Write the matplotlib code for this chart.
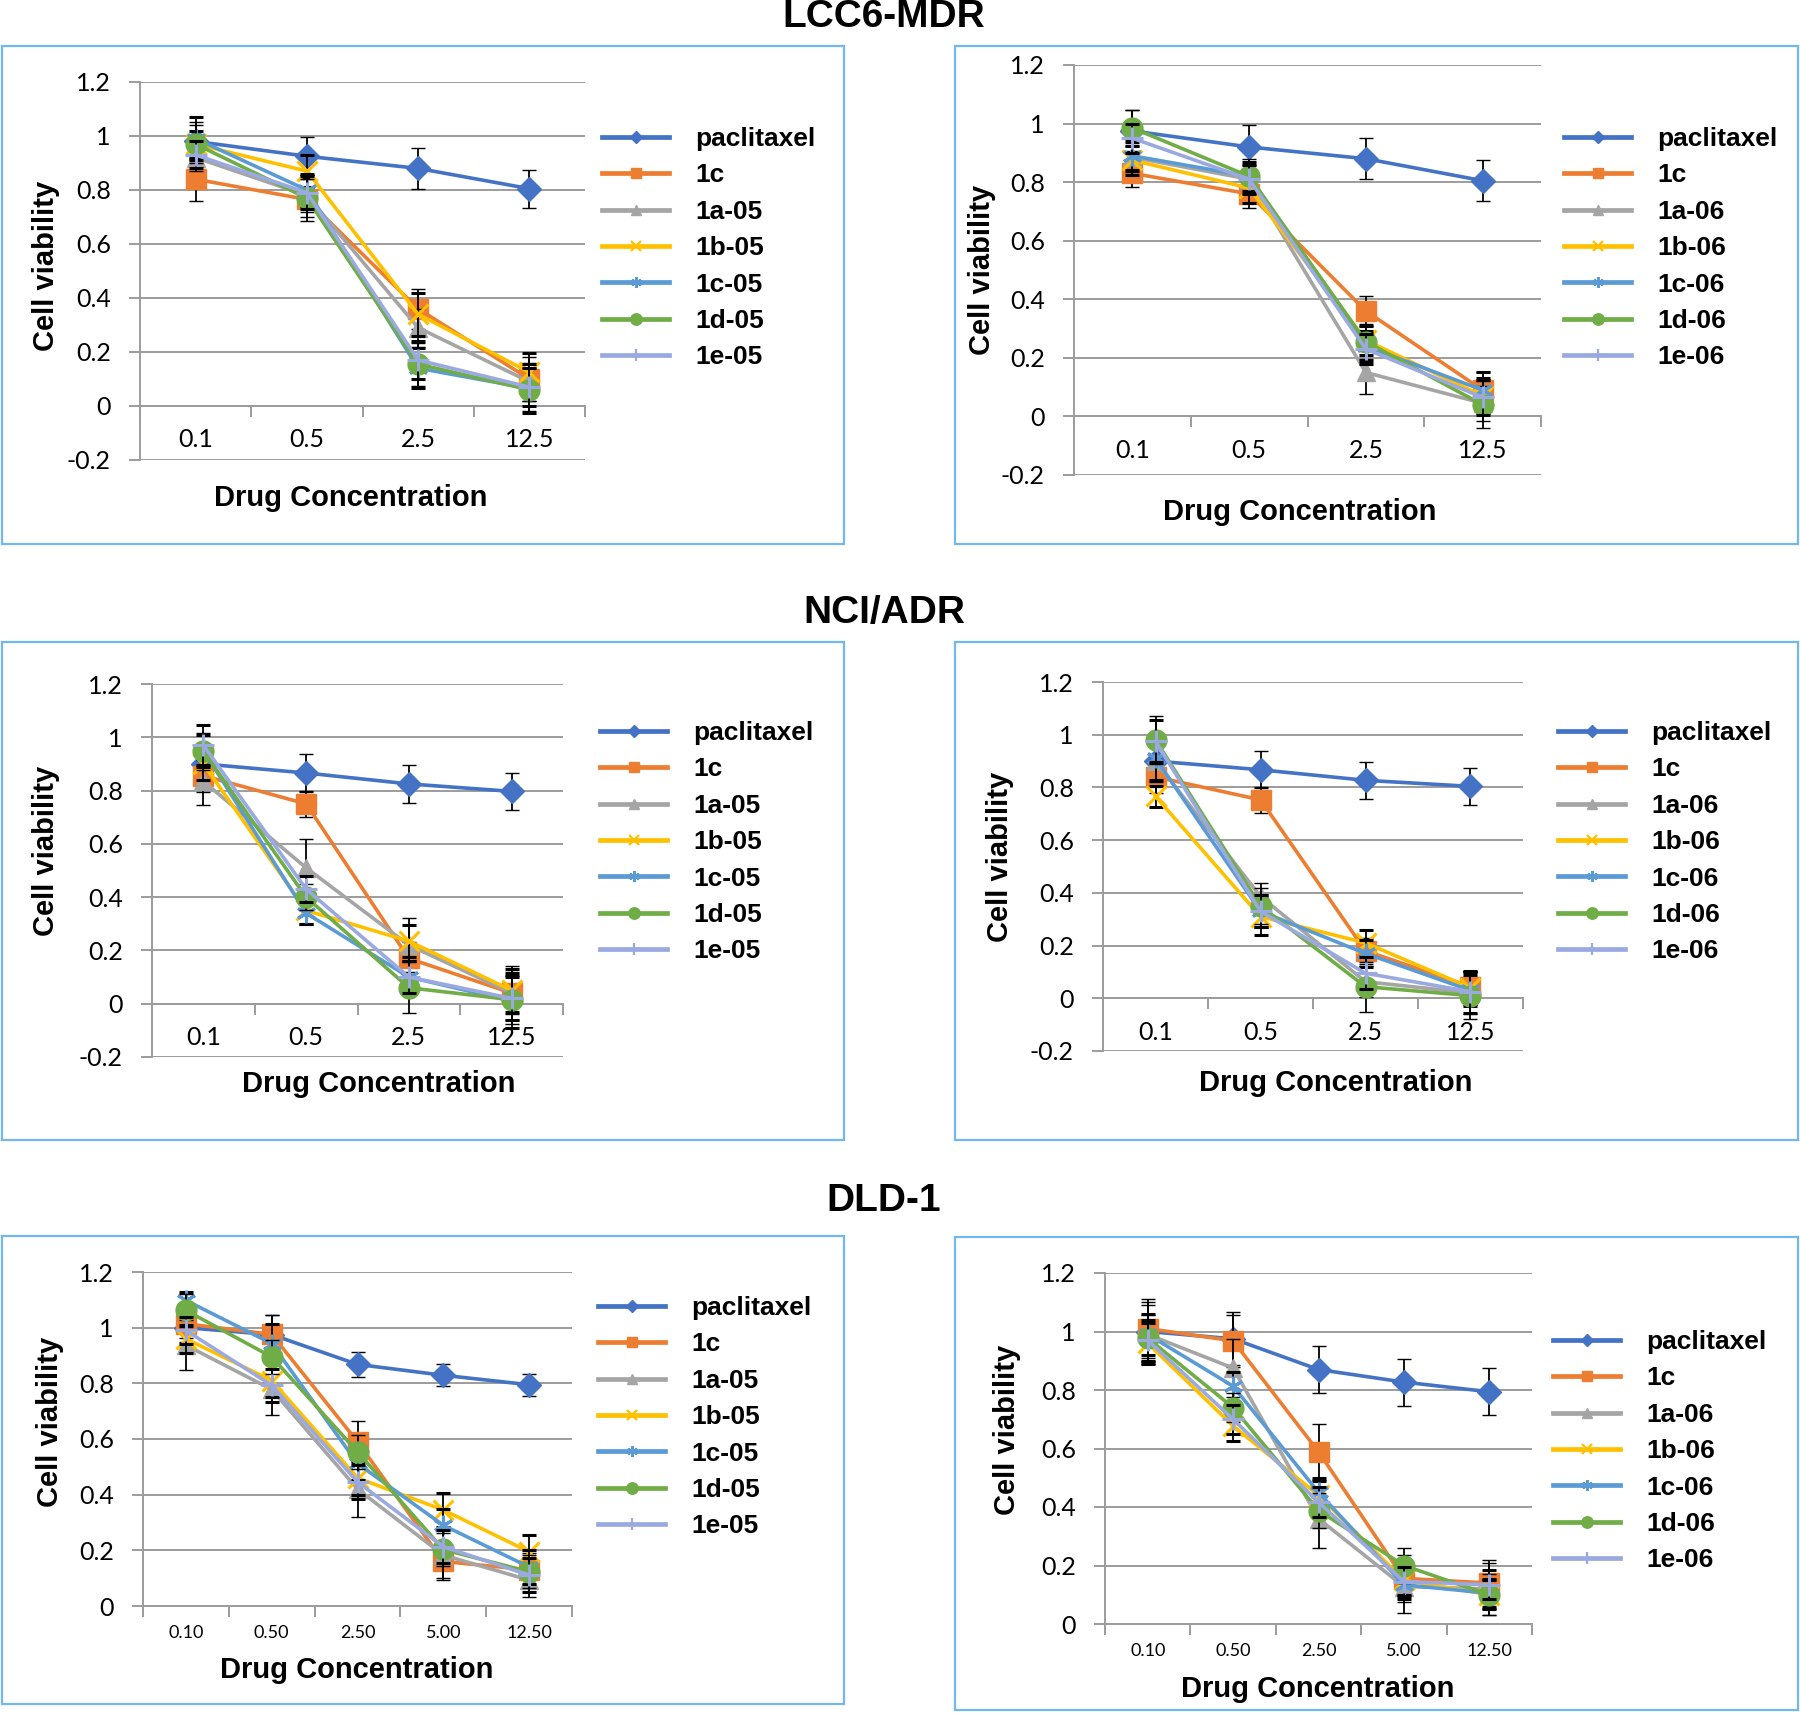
import numpy as np
import matplotlib
matplotlib.use('Agg')
import matplotlib.pyplot as plt
from matplotlib.lines import Line2D
from matplotlib.patches import Rectangle
from matplotlib.font_manager import FontProperties

W, H = 1800, 1713

# ---- categories / series names
conc_4 = ['0.1', '0.5', '2.5', '12.5']
conc_5 = ['0.10', '0.50', '2.50', '5.00', '12.50']
names_05 = ['paclitaxel', '1c', '1a-05', '1b-05', '1c-05', '1d-05', '1e-05']
names_06 = ['paclitaxel', '1c', '1a-06', '1b-06', '1c-06', '1d-06', '1e-06']

# ---- values (rows: series in legend order)
lcc_05 = [[0.98, 0.925, 0.88, 0.805],
          [0.84, 0.765, 0.36, 0.10],
          [0.92, 0.78, 0.29, 0.09],
          [0.97, 0.87, 0.34, 0.125],
          [0.99, 0.80, 0.14, 0.065],
          [0.97, 0.77, 0.155, 0.06],
          [0.93, 0.79, 0.17, 0.07]]
lcc_05_err = [[0.07, 0.07, 0.075, 0.07],
              [0.08, 0.08, 0.075, 0.08],
              [0.05, 0.06, 0.07, 0.07],
              [0.05, 0.06, 0.08, 0.07],
              [0.08, 0.06, 0.075, 0.09],
              [0.07, 0.07, 0.08, 0.08],
              [0.05, 0.06, 0.07, 0.07]]

lcc_06 = [[0.975, 0.92, 0.88, 0.805],
          [0.83, 0.76, 0.36, 0.09],
          [0.885, 0.81, 0.15, 0.045],
          [0.875, 0.78, 0.26, 0.07],
          [0.89, 0.82, 0.24, 0.09],
          [0.985, 0.82, 0.255, 0.04],
          [0.95, 0.81, 0.23, 0.065]]
lcc_06_err = [[0.07, 0.075, 0.07, 0.07],
              [0.045, 0.05, 0.05, 0.06],
              [0.05, 0.05, 0.075, 0.06],
              [0.05, 0.05, 0.05, 0.06],
              [0.05, 0.05, 0.05, 0.06],
              [0.06, 0.06, 0.06, 0.08],
              [0.05, 0.05, 0.05, 0.06]]

nci_05 = [[0.90, 0.866, 0.825, 0.797],
          [0.856, 0.75, 0.17, 0.04],
          [0.835, 0.51, 0.22, 0.04],
          [0.90, 0.35, 0.235, 0.05],
          [0.95, 0.34, 0.10, 0.01],
          [0.947, 0.40, 0.06, 0.015],
          [0.97, 0.43, 0.10, 0.02]]
nci_05_err = [[0.07, 0.07, 0.07, 0.07],
              [0.06, 0.05, 0.06, 0.08],
              [0.09, 0.11, 0.10, 0.10],
              [0.06, 0.05, 0.06, 0.08],
              [0.06, 0.04, 0.06, 0.10],
              [0.07, 0.05, 0.095, 0.09],
              [0.075, 0.05, 0.06, 0.08]]

nci_06 = [[0.90, 0.867, 0.827, 0.804],
          [0.84, 0.753, 0.18, 0.044],
          [0.90, 0.386, 0.063, 0.02],
          [0.766, 0.31, 0.21, 0.04],
          [0.91, 0.33, 0.17, 0.03],
          [0.98, 0.35, 0.044, 0.01],
          [0.975, 0.33, 0.095, 0.025]]
nci_06_err = [[0.07, 0.07, 0.07, 0.07],
              [0.06, 0.05, 0.05, 0.06],
              [0.08, 0.05, 0.06, 0.08],
              [0.04, 0.07, 0.05, 0.06],
              [0.08, 0.06, 0.05, 0.06],
              [0.09, 0.07, 0.095, 0.09],
              [0.08, 0.06, 0.06, 0.08]]

dld_05 = [[1.00, 0.975, 0.868, 0.829, 0.795],
          [1.014, 0.976, 0.59, 0.16, 0.13],
          [0.937, 0.778, 0.42, 0.183, 0.093],
          [0.96, 0.81, 0.46, 0.345, 0.195],
          [1.098, 0.943, 0.512, 0.29, 0.14],
          [1.062, 0.895, 0.554, 0.203, 0.123],
          [0.99, 0.793, 0.446, 0.213, 0.111]]
dld_05_err = [[0.05, 0.07, 0.045, 0.04, 0.04],
              [0.05, 0.07, 0.075, 0.06, 0.06],
              [0.09, 0.09, 0.10, 0.09, 0.06],
              [0.05, 0.06, 0.06, 0.06, 0.06],
              [0.03, 0.07, 0.06, 0.06, 0.06],
              [0.06, 0.06, 0.06, 0.06, 0.06],
              [0.05, 0.06, 0.06, 0.06, 0.06]]

dld_06 = [[1.00, 0.975, 0.87, 0.827, 0.794],
          [1.01, 0.968, 0.589, 0.156, 0.14],
          [0.99, 0.875, 0.36, 0.128, 0.12],
          [0.96, 0.677, 0.44, 0.15, 0.10],
          [0.99, 0.813, 0.45, 0.134, 0.105],
          [0.977, 0.74, 0.388, 0.20, 0.10],
          [0.97, 0.70, 0.417, 0.145, 0.134]]
dld_06_err = [[0.10, 0.09, 0.08, 0.08, 0.08],
              [0.10, 0.09, 0.095, 0.08, 0.08],
              [0.10, 0.10, 0.10, 0.09, 0.09],
              [0.07, 0.05, 0.05, 0.05, 0.05],
              [0.07, 0.05, 0.05, 0.05, 0.05],
              [0.08, 0.05, 0.06, 0.06, 0.07],
              [0.07, 0.05, 0.05, 0.05, 0.05]]

# ---- styles
colors = ['#4472C4', '#ED7D31', '#A5A5A5', '#FFC000', '#5B9BD5', '#70AD47', '#9AAAE0']
markers = ['D', 's', '^', 'x', (6, 2, 0), 'o', '+']
msizes = [12, 14, 13, 14, 14, 15, 16]
thin = ('x', '+', (6, 2, 0))
grid_c = '#9c9c9c'
bold = dict(family='Liberation Sans', weight='bold')
tick_font = 'Lato'


def fx(x):
    return x / W


def fy(y):
    return 1 - y / H


def draw_panel(fig, axbox, frame, cats, vals, errs, names, ymin,
               xlab, ylab, leg, small=False):
    l, t, r, b = axbox
    ax = fig.add_axes([fx(l), fy(b), (r - l) / W, (b - t) / H])
    n = len(cats)
    x = np.arange(n)
    for i in range(len(vals)):
        ax.errorbar(x, vals[i], yerr=errs[i], color=colors[i], marker=markers[i],
                    ms=msizes[i], mew=2.2 if markers[i] in thin else 1,
                    mec=colors[i], lw=2.6, ecolor='black', elinewidth=1.3,
                    capsize=5, capthick=1.3, zorder=3 + i)
    ax.set_xlim(-0.5, n - 0.5)
    ax.set_ylim(ymin, 1.2)
    yt = np.round(np.arange(ymin, 1.201, 0.2), 1)
    ax.set_yticks(yt)
    ax.set_yticklabels(['%g' % v if v != 0 else '0' for v in yt],
                       fontfamily=tick_font, fontsize=18)
    ax.yaxis.grid(True, color=grid_c, lw=1.4)
    ax.set_axisbelow(True)
    for s in ('top', 'right'):
        ax.spines[s].set_visible(False)
    for s in ('left', 'bottom'):
        ax.spines[s].set_color(grid_c)
        ax.spines[s].set_linewidth(1.4)
    ax.spines['bottom'].set_position(('data', 0))
    ax.set_xticks(np.arange(n + 1) - 0.5)
    ax.set_xticklabels([])
    ax.set_xticks(x, minor=True)
    ax.set_xticklabels(cats, minor=True, fontfamily=tick_font,
                       fontsize=13 if small else 18)
    ax.tick_params(axis='x', which='major', length=8, width=1.4, color=grid_c)
    ax.tick_params(axis='x', which='minor', length=0, pad=14 if small else 16)
    ax.tick_params(axis='y', length=8, width=1.4, color=grid_c, pad=13)

    fig.text(fx(xlab[0]), fy(xlab[1]), 'Drug Concentration', ha='center', va='center',
             fontsize=21, **bold)
    fig.text(fx(ylab[0]), fy(ylab[1]), 'Cell viability', ha='center', va='center',
             rotation=90, fontsize=21, **bold)

    handles = [Line2D([], [], color=colors[i], marker=markers[i], ms=msizes[i] * 0.55,
                      mew=1.6 if markers[i] in thin else 1, lw=3.4)
               for i in range(len(names))]
    ax.legend(handles, names, loc='upper left', bbox_to_anchor=(fx(leg[0]), fy(leg[1])),
              bbox_transform=fig.transFigure, frameon=False,
              prop=FontProperties(size=19, **bold), handlelength=2.55,
              handletextpad=1.0, labelspacing=0.47, borderpad=0, borderaxespad=0)

    fl, ft, fr, fb = frame
    fig.patches.append(Rectangle((fx(fl), fy(fb)), (fr - fl) / W, (fb - ft) / H,
                                 transform=fig.transFigure, fill=False,
                                 edgecolor='#72b8ee', lw=1.6))
    return ax


fig = plt.figure(figsize=(W / 100, H / 100), dpi=100)

for txt, ty in [('LCC6-MDR', 17), ('NCI/ADR', 613), ('DLD-1', 1201)]:
    fig.text(fx(884), fy(ty), txt, ha='center', va='center', fontsize=28, **bold)

draw_panel(fig, (140, 82, 585, 460), (2, 46, 844, 544), conc_4, lcc_05, lcc_05_err,
           names_05, -0.2, (351, 498), (46, 266), (602, 127))
draw_panel(fig, (1074, 65, 1541, 475), (955, 46, 1798, 544), conc_4, lcc_06, lcc_06_err,
           names_06, -0.2, (1300, 512), (982, 270), (1564, 127))
draw_panel(fig, (152, 684, 563, 1057), (2, 642, 844, 1140), conc_4, nci_05, nci_05_err,
           names_05, -0.2, (379, 1084), (46, 851), (600, 721))
draw_panel(fig, (1103, 682, 1523, 1051), (955, 642, 1798, 1140), conc_4, nci_06, nci_06_err,
           names_06, -0.2, (1336, 1083), (1000, 857), (1558, 721))
draw_panel(fig, (143, 1272, 572, 1606), (2, 1236, 844, 1704), conc_5, dld_05, dld_05_err,
           names_05, 0.0, (357, 1670), (50, 1422), (598, 1296), small=True)
draw_panel(fig, (1105, 1273, 1532, 1624), (955, 1237, 1798, 1710), conc_5, dld_06, dld_06_err,
           names_06, 0.0, (1318, 1689), (1007, 1430), (1553, 1330), small=True)

fig.savefig('out.png', dpi=100)
